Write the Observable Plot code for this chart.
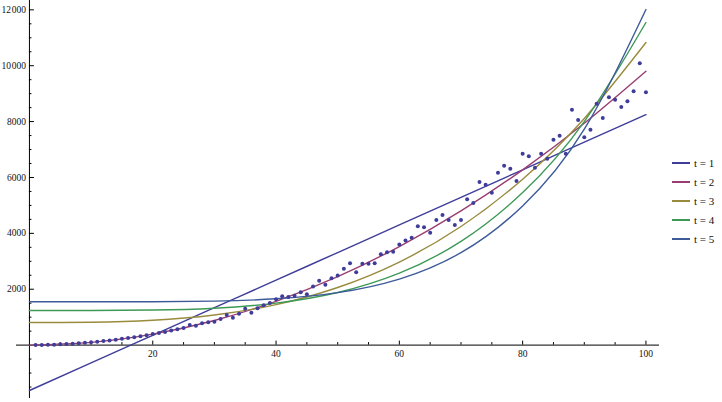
<!DOCTYPE html>
<html>
<head>
<meta charset="utf-8">
<script src="https://cdn.jsdelivr.net/npm/d3@7"></script>
<script src="https://cdn.jsdelivr.net/npm/@observablehq/plot@0.6"></script>
<style>
  body { margin: 0; background: #fff; }
  #wrap { position: relative; width: 722px; height: 402px; }
  #legend { position: absolute; left: 672px; top: 153px; font: 11px "Liberation Serif", serif; color: #111; }
  .row { display: flex; align-items: center; height: 19px; }
  .sw { display: inline-block; width: 18px; height: 2px; margin-right: 4px; }
</style>
</head>
<body>
<div id="wrap"></div>
<script>
// ---- data ----
const pointX = d3.range(1, 101);
const pointY = [
  2, 5, 10, 17, 27, 38, 52, 66, 82, 100,
  122, 145, 168, 195, 225, 255, 285, 320, 355, 395,
  430, 465, 520, 565, 615, 720, 690, 780, 820, 835,
  930, 1080, 980, 1120, 1300, 1160, 1320, 1430, 1510, 1640,
  1750, 1720, 1770, 1890, 1820, 2100, 2300, 2160, 2390, 2490,
  2730, 2930, 2610, 2910, 2910, 2930, 3250, 3320, 3340, 3600,
  3740, 3840, 4250, 4220, 4020, 4480, 4660, 4480, 4300, 4480,
  5220, 5090, 5840, 5740, 5450, 6170, 6420, 6310, 5870, 6850,
  6760, 6350, 6850, 6670, 7350, 7490, 6850, 8420, 8060, 7440,
  7710, 8640, 8130, 8870, 8780, 8520, 8730, 9090, 10090, 9050
];
const curveX = [0, 10, 20, 30, 40, 50, 60, 70, 80, 90, 100];
const fitT1 = [-1625, -638, 350, 1338, 2325, 3313, 4300, 5288, 6275, 7263, 8250];
const fitT2 = [0, 98, 392, 882, 1568, 2450, 3528, 4802, 6272, 7938, 9800];
const fitT3 = [809, 819, 889, 1080, 1450, 2062, 2973, 4246, 5939, 8113, 10830];
const fitT4 = [1238, 1239, 1254, 1321, 1502, 1882, 2574, 3713, 5460, 8001, 11546];
const fitT5 = [1550, 1550, 1553, 1575, 1657, 1877, 2363, 3308, 4978, 7727, 12011];
const seriesNames = ["t = 1", "t = 2", "t = 3", "t = 4", "t = 5"];
const seriesColors = ["#3F3D99", "#993D71", "#998B3D", "#3D9956", "#3D5A99"];
const xMajorTicks = [20, 40, 60, 80, 100];
const xTickLabels = ["20", "40", "60", "80", "100"];
const xMinorTicks = [5, 10, 15, 25, 30, 35, 45, 50, 55, 65, 70, 75, 85, 90, 95];
const yMajorTicks = [2000, 4000, 6000, 8000, 10000, 12000];
const yTickLabels = ["2000", "4000", "6000", "8000", "10\u200A000", "12\u200A000"];
const yMinorTicks = [-1500, -1000, -500, 500, 1000, 1500, 2500, 3000, 3500, 4500, 5000, 5500,
  6500, 7000, 7500, 8500, 9000, 9500, 10500, 11000, 11500];

// ---- tables ----
const points = pointX.map((x, i) => ({x, y: pointY[i]}));
const fitArrays = [fitT1, fitT2, fitT3, fitT4, fitT5];
const fits = fitArrays.flatMap((arr, s) => curveX.map((x, i) => ({x, y: arr[i], series: seriesNames[s]})));
const xTicksTbl = xMajorTicks.map((v, i) => ({v, label: xTickLabels[i]}));
const yTicksTbl = yMajorTicks.map((v, i) => ({v, label: yTickLabels[i]}));

const chart = Plot.plot({
  width: 722,
  height: 402,
  marginLeft: 16,
  marginRight: 63,
  marginTop: 0,
  marginBottom: 4,
  x: {domain: [-2.1, 102.2], axis: null},
  y: {domain: [-1911, 12334], axis: null},
  color: {domain: seriesNames, range: seriesColors},
  style: {fontFamily: "'Liberation Serif', serif", fontSize: "9.5px", background: "white", color: "#111", overflow: "visible"},
  marks: [
    // axes
    Plot.ruleY([0], {stroke: "#000", strokeWidth: 1}),
    Plot.ruleX([0], {stroke: "#000", strokeWidth: 1}),
    // x ticks (pointing up from the axis)
    Plot.ruleX(xMajorTicks, {x: d => d, y1: () => 0, y2: () => 0, insetTop: -4, stroke: "#000"}),
    Plot.ruleX(xMinorTicks, {x: d => d, y1: () => 0, y2: () => 0, insetTop: -2.5, stroke: "#000"}),
    // y ticks (pointing right from the axis)
    Plot.ruleY(yMajorTicks, {y: d => d, x1: () => 0, x2: () => 0, insetRight: -5, stroke: "#000"}),
    Plot.ruleY(yMinorTicks, {y: d => d, x1: () => 0, x2: () => 0, insetRight: -2.5, stroke: "#000"}),
    // tick labels
    Plot.text(xTicksTbl, {x: "v", y: () => 0, text: "label", dy: 9, fill: "#111"}),
    Plot.text(yTicksTbl, {x: () => 0, y: "v", text: "label", dx: -3.5, textAnchor: "end", fill: "#111"}),
    // fitted curves
    Plot.line(fits, {x: "x", y: "y", z: "series", stroke: "series", curve: "natural", strokeWidth: 1.4}),
    // data points
    Plot.dot(points, {x: "x", y: "y", r: 2, fill: "#3F3D99", stroke: "none"})
  ]
});

const wrap = document.getElementById("wrap");
wrap.appendChild(chart);

// legend
const legend = document.createElement("div");
legend.id = "legend";
seriesNames.forEach((name, i) => {
  const row = document.createElement("div");
  row.className = "row";
  const sw = document.createElement("span");
  sw.className = "sw";
  sw.style.background = seriesColors[i];
  const lab = document.createElement("span");
  lab.textContent = name;
  row.appendChild(sw);
  row.appendChild(lab);
  legend.appendChild(row);
});
wrap.appendChild(legend);
</script>
</body>
</html>
